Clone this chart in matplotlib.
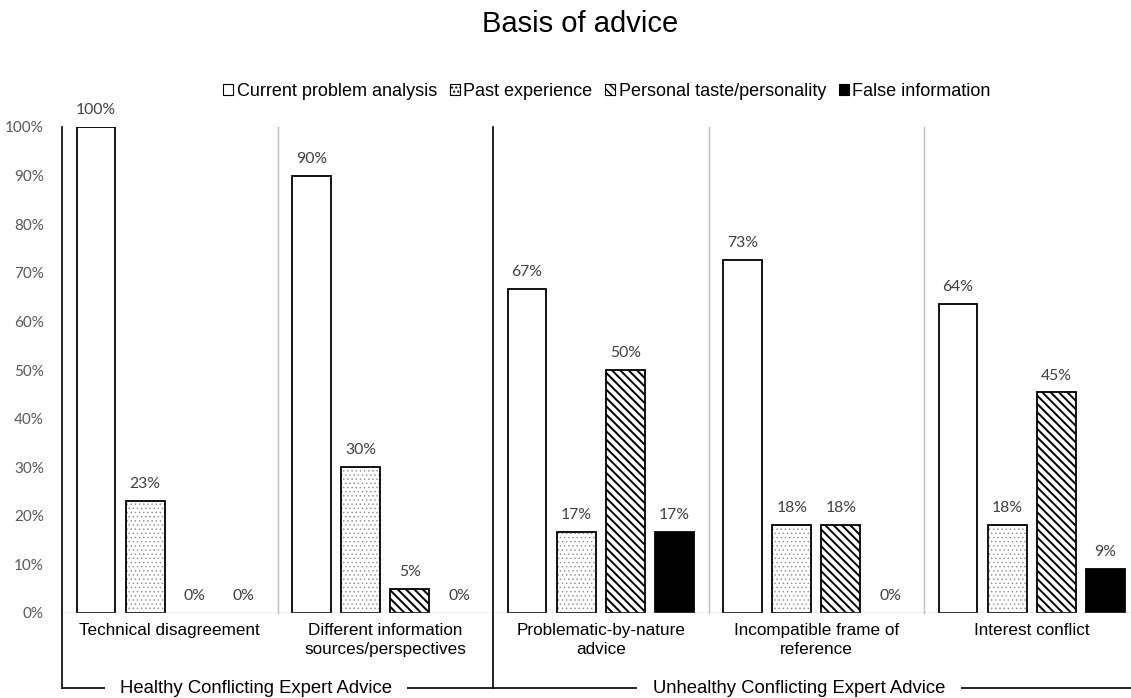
import matplotlib.pyplot as plt
import matplotlib.transforms as mtransforms
from matplotlib.patches import Patch
import numpy as np

plt.rcParams['hatch.linewidth'] = 1.4

categories = ['Technical disagreement', 'Different information\nsources/perspectives',
              'Problematic-by-nature\nadvice', 'Incompatible frame of\nreference',
              'Interest conflict']
series = ['Current problem analysis', 'Past experience',
          'Personal taste/personality', 'False information']
current = [100, 90, 66.7, 72.7, 63.6]
past = [23.1, 30, 16.7, 18.2, 18.2]
personal = [0, 5, 50, 18.2, 45.4]
false_info = [0, 0, 16.7, 0, 9.1]
groups = ['Healthy Conflicting Expert Advice', 'Unhealthy Conflicting Expert Advice']
yticks = [0, 10, 20, 30, 40, 50, 60, 70, 80, 90, 100]

styles = [
    dict(facecolor='white', hatch=None, edgecolor='black', hlw=1.4),
    dict(facecolor='white', hatch='....', edgecolor='#8c8c8c', hlw=0.5),
    dict(facecolor='white', hatch='\\\\\\\\', edgecolor='black', hlw=1.4),
    dict(facecolor='black', hatch=None, edgecolor='black', hlw=1.4),
]

fig = plt.figure(figsize=(11.31, 6.98), dpi=100)
ax = fig.add_axes([62 / 1131, 85 / 698, 1069 / 1131, 486 / 698])

x = np.arange(len(categories))
width = 0.18
step = 0.228
values = [current, past, personal, false_info]
for i, (vals, st) in enumerate(zip(values, styles)):
    xs = x + (i - 1.5) * step
    for xi, v in zip(xs, vals):
        if v > 0:
            if st['hatch']:
                plt.rcParams['hatch.linewidth'] = st['hlw']
                ax.bar(xi, v, width, color='white', edgecolor=st['edgecolor'],
                       hatch=st['hatch'], linewidth=0)
                ax.bar(xi, v, width, fill=False, edgecolor='black', linewidth=1.3)
            else:
                ax.bar(xi, v, width, color=st['facecolor'], edgecolor='black',
                       linewidth=1.3)
        ax.text(xi, v + 2, f'{v:.0f}%', ha='center', va='bottom', fontsize=11.3,
                color='#404040', family='Lato')
plt.rcParams['hatch.linewidth'] = 1.0

ax.set_xlim(-0.5, -0.5 + 1069 / 215.5)
ax.set_ylim(0, 100)
ax.set_yticks(yticks)
ax.set_yticklabels([f'{t}%' for t in yticks], fontsize=11, color='#595959', family='Lato')
ax.tick_params(axis='y', length=0, pad=13)
ax.set_xticks([])
for s in ax.spines.values():
    s.set_visible(False)
ax.axhline(0, color='#bfbfbf', linewidth=1)

trans = mtransforms.blended_transform_factory(ax.transData, ax.transAxes)
for xs in [0.5, 2.5, 3.5]:
    ax.plot([xs, xs], [0, 1], color='#bfbfbf', linewidth=1, transform=trans, clip_on=False)
for xs in [-0.5, 1.5]:
    ax.plot([xs, xs], [-0.155, 1], color='black', linewidth=1.2, transform=trans, clip_on=False)

for xi, c in zip(x, categories):
    ax.text(xi, -0.02, c, ha='center', va='top', fontsize=12.3, family='Liberation Sans',
            transform=trans, linespacing=1.35)

# group brackets along the bottom
ax.plot([-0.5, 5], [-0.155, -0.155], color='black', linewidth=1.2, transform=trans, clip_on=False)
for gx, g in zip([0.40, 2.92], groups):
    ax.text(gx, -0.155, g, ha='center', va='center', fontsize=13.3, family='Liberation Sans',
            transform=trans, bbox=dict(facecolor='white', edgecolor='none', pad=11))

fig.text(580 / 1131, 1 - 24 / 698, 'Basis of advice', fontsize=21, family='Liberation Sans',
         ha='center', va='center')

handles = [Patch(facecolor=st['facecolor'] if not st['hatch'] else 'white',
                 edgecolor='black', hatch=st['hatch'], linewidth=0.8) for st in styles]
fig.legend(handles, series, loc='center', bbox_to_anchor=(607 / 1131, 1 - 91 / 698), ncol=4,
           frameon=False, handlelength=0.55, handleheight=0.55, handletextpad=0.2,
           columnspacing=0.7, prop={'family': 'Liberation Sans', 'size': 13})

fig.savefig('out.png', dpi=100)
